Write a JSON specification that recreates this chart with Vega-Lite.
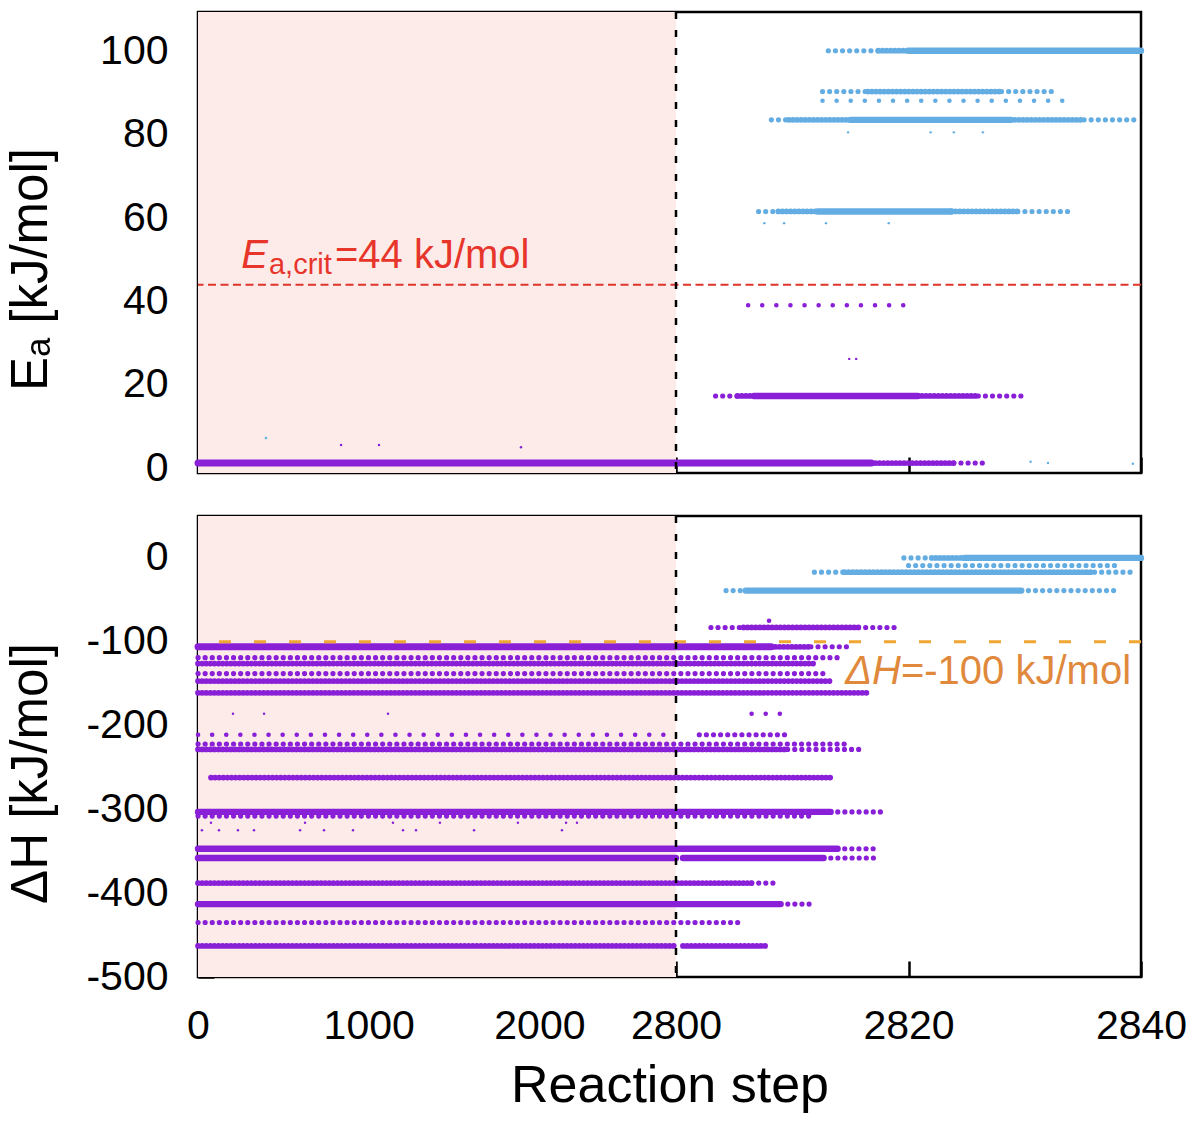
{
  "$schema": "https://vega.github.io/schema/vega-lite/v6.json",
  "background": "white",
  "padding": {"left": 3, "top": 9, "right": 5, "bottom": 5},
  "spacing": 23,
  "datasets": {
    "shade": [{"x0": 0, "x1": 2800}],
    "bands": [
      {"panel": "Ea", "y": 100.2, "x0": 2813.1, "x1": 2817.4, "group": "high", "density": "sparse"},
      {"panel": "Ea", "y": 100.2, "x0": 2817.4, "x1": 2820, "group": "high", "density": "medium"},
      {"panel": "Ea", "y": 100.2, "x0": 2820, "x1": 2840, "group": "high", "density": "dense"},
      {"panel": "Ea", "y": 90.4, "x0": 2812.6, "x1": 2816.5, "group": "high", "density": "sparse"},
      {"panel": "Ea", "y": 90.4, "x0": 2816.5, "x1": 2828, "group": "high", "density": "medium"},
      {"panel": "Ea", "y": 90.4, "x0": 2828, "x1": 2832.7, "group": "high", "density": "sparse"},
      {"panel": "Ea", "y": 88.2, "x0": 2812.6, "x1": 2834.4, "group": "high", "density": "few"},
      {"panel": "Ea", "y": 83.6, "x0": 2808.2, "x1": 2809.7, "group": "high", "density": "sparse"},
      {"panel": "Ea", "y": 83.6, "x0": 2809.7, "x1": 2815, "group": "high", "density": "medium"},
      {"panel": "Ea", "y": 83.6, "x0": 2815, "x1": 2828.8, "group": "high", "density": "dense"},
      {"panel": "Ea", "y": 83.6, "x0": 2828.8, "x1": 2835.1, "group": "high", "density": "medium"},
      {"panel": "Ea", "y": 83.6, "x0": 2835.1, "x1": 2839.4, "group": "high", "density": "sparse"},
      {"panel": "Ea", "y": 61.6, "x0": 2807.1, "x1": 2808.8, "group": "high", "density": "sparse"},
      {"panel": "Ea", "y": 61.6, "x0": 2808.8, "x1": 2812.2, "group": "high", "density": "medium"},
      {"panel": "Ea", "y": 61.6, "x0": 2812.2, "x1": 2823.7, "group": "high", "density": "dense"},
      {"panel": "Ea", "y": 61.6, "x0": 2823.7, "x1": 2829.4, "group": "high", "density": "medium"},
      {"panel": "Ea", "y": 61.6, "x0": 2829.4, "x1": 2834.2, "group": "high", "density": "sparse"},
      {"panel": "Ea", "y": 39.1, "x0": 2806.2, "x1": 2819.6, "group": "low", "density": "few"},
      {"panel": "Ea", "y": 17.3, "x0": 2803.4, "x1": 2805.3, "group": "low", "density": "sparse"},
      {"panel": "Ea", "y": 17.3, "x0": 2805.3, "x1": 2806.7, "group": "low", "density": "medium"},
      {"panel": "Ea", "y": 17.3, "x0": 2806.7, "x1": 2820.8, "group": "low", "density": "dense"},
      {"panel": "Ea", "y": 17.3, "x0": 2820.8, "x1": 2826, "group": "low", "density": "medium"},
      {"panel": "Ea", "y": 17.3, "x0": 2826, "x1": 2830, "group": "low", "density": "sparse"},
      {"panel": "Ea", "y": 1.2, "x0": 0, "x1": 2816.8, "group": "low", "density": "thick"},
      {"panel": "Ea", "y": 1.2, "x0": 2816.8, "x1": 2823.9, "group": "low", "density": "medium"},
      {"panel": "Ea", "y": 1.2, "x0": 2823.9, "x1": 2826.8, "group": "low", "density": "sparse"},
      {"panel": "dH", "y": 0, "x0": 2819.6, "x1": 2822, "group": "high", "density": "sparse"},
      {"panel": "dH", "y": 0, "x0": 2822, "x1": 2824.8, "group": "high", "density": "medium"},
      {"panel": "dH", "y": 0, "x0": 2824.8, "x1": 2840, "group": "high", "density": "dense"},
      {"panel": "dH", "y": -9, "x0": 2820, "x1": 2838, "group": "high", "density": "sparse"},
      {"panel": "dH", "y": -17, "x0": 2811.9, "x1": 2814.5, "group": "high", "density": "sparse"},
      {"panel": "dH", "y": -17, "x0": 2814.5, "x1": 2836, "group": "high", "density": "medium"},
      {"panel": "dH", "y": -17, "x0": 2836, "x1": 2839.6, "group": "high", "density": "sparse"},
      {"panel": "dH", "y": -39, "x0": 2804.3, "x1": 2806, "group": "high", "density": "sparse"},
      {"panel": "dH", "y": -39, "x0": 2806, "x1": 2829.7, "group": "high", "density": "dense"},
      {"panel": "dH", "y": -39, "x0": 2829.7, "x1": 2837.7, "group": "high", "density": "sparse"},
      {"panel": "dH", "y": -75, "x0": 2808, "x1": 2809.2, "group": "low", "density": "few"},
      {"panel": "dH", "y": -83, "x0": 2803, "x1": 2805.8, "group": "low", "density": "sparse"},
      {"panel": "dH", "y": -83, "x0": 2805.8, "x1": 2815.7, "group": "low", "density": "medium"},
      {"panel": "dH", "y": -83, "x0": 2815.7, "x1": 2818.8, "group": "low", "density": "sparse"},
      {"panel": "dH", "y": -106, "x0": 0, "x1": 2808.2, "group": "low", "density": "thick"},
      {"panel": "dH", "y": -106, "x0": 2808.2, "x1": 2811.6, "group": "low", "density": "medium"},
      {"panel": "dH", "y": -106, "x0": 2811.6, "x1": 2814.8, "group": "low", "density": "sparse"},
      {"panel": "dH", "y": -119, "x0": 0, "x1": 2814, "group": "low", "density": "sparse"},
      {"panel": "dH", "y": -126, "x0": 0, "x1": 2812, "group": "low", "density": "medium"},
      {"panel": "dH", "y": -138, "x0": 0, "x1": 2813, "group": "low", "density": "sparse"},
      {"panel": "dH", "y": -147, "x0": 0, "x1": 2813.4, "group": "low", "density": "medium"},
      {"panel": "dH", "y": -161, "x0": 0, "x1": 2816.6, "group": "low", "density": "medium"},
      {"panel": "dH", "y": -186, "x0": 2806.5, "x1": 2809, "group": "low", "density": "few"},
      {"panel": "dH", "y": -211, "x0": 0, "x1": 2800, "group": "low", "density": "few"},
      {"panel": "dH", "y": -211, "x0": 2802, "x1": 2809.7, "group": "low", "density": "sparse"},
      {"panel": "dH", "y": -222, "x0": 0, "x1": 2814.5, "group": "low", "density": "sparse"},
      {"panel": "dH", "y": -228.5, "x0": 0, "x1": 2809.6, "group": "low", "density": "medium"},
      {"panel": "dH", "y": -228.5, "x0": 2809.6, "x1": 2816.2, "group": "low", "density": "sparse"},
      {"panel": "dH", "y": -262, "x0": 76, "x1": 2813.3, "group": "low", "density": "medium"},
      {"panel": "dH", "y": -303, "x0": 0, "x1": 2813.3, "group": "low", "density": "dense"},
      {"panel": "dH", "y": -303, "x0": 2813.3, "x1": 2817.9, "group": "low", "density": "sparse"},
      {"panel": "dH", "y": -308, "x0": 0, "x1": 2812, "group": "low", "density": "sparse"},
      {"panel": "dH", "y": -347, "x0": 0, "x1": 2813.9, "group": "low", "density": "dense"},
      {"panel": "dH", "y": -347, "x0": 2813.9, "x1": 2817.4, "group": "low", "density": "sparse"},
      {"panel": "dH", "y": -358, "x0": 0, "x1": 2799.6, "group": "low", "density": "dense"},
      {"panel": "dH", "y": -358, "x0": 2800.6, "x1": 2812.7, "group": "low", "density": "dense"},
      {"panel": "dH", "y": -358, "x0": 2812.7, "x1": 2817, "group": "low", "density": "sparse"},
      {"panel": "dH", "y": -388, "x0": 0, "x1": 2806.5, "group": "low", "density": "medium"},
      {"panel": "dH", "y": -388, "x0": 2806.5, "x1": 2808.6, "group": "low", "density": "sparse"},
      {"panel": "dH", "y": -413, "x0": 0, "x1": 2809, "group": "low", "density": "dense"},
      {"panel": "dH", "y": -413, "x0": 2809, "x1": 2811.8, "group": "low", "density": "sparse"},
      {"panel": "dH", "y": -435, "x0": 0, "x1": 2805.5, "group": "low", "density": "sparse"},
      {"panel": "dH", "y": -463, "x0": 0, "x1": 2799.5, "group": "low", "density": "medium"},
      {"panel": "dH", "y": -463, "x0": 2800.6, "x1": 2807.9, "group": "low", "density": "medium"}
    ],
    "points": [
      {"panel": "Ea", "x": 398, "y": 7.2, "group": "high"},
      {"panel": "Ea", "x": 838, "y": 5.5, "group": "low"},
      {"panel": "Ea", "x": 1060, "y": 5.5, "group": "low"},
      {"panel": "Ea", "x": 1892, "y": 5, "group": "low"},
      {"panel": "Ea", "x": 2814.9, "y": 26.2, "group": "low"},
      {"panel": "Ea", "x": 2815.5, "y": 26.2, "group": "low"},
      {"panel": "Ea", "x": 2814.8, "y": 80.6, "group": "high"},
      {"panel": "Ea", "x": 2821.9, "y": 80.6, "group": "high"},
      {"panel": "Ea", "x": 2823.9, "y": 80.6, "group": "high"},
      {"panel": "Ea", "x": 2826.4, "y": 80.6, "group": "high"},
      {"panel": "Ea", "x": 2807.6, "y": 58.8, "group": "high"},
      {"panel": "Ea", "x": 2809.3, "y": 58.8, "group": "high"},
      {"panel": "Ea", "x": 2812.9, "y": 58.8, "group": "high"},
      {"panel": "Ea", "x": 2818.3, "y": 58.8, "group": "high"},
      {"panel": "Ea", "x": 2830.5, "y": 1.5, "group": "high"},
      {"panel": "Ea", "x": 2832, "y": 1.2, "group": "high"},
      {"panel": "Ea", "x": 2839.3, "y": 1, "group": "high"},
      {"panel": "dH", "x": 205, "y": -186, "group": "low"},
      {"panel": "dH", "x": 387, "y": -186, "group": "low"},
      {"panel": "dH", "x": 1113, "y": -186, "group": "low"},
      {"panel": "dH", "x": 76, "y": -316, "group": "low"},
      {"panel": "dH", "x": 627, "y": -316, "group": "low"},
      {"panel": "dH", "x": 1142, "y": -316, "group": "low"},
      {"panel": "dH", "x": 1417, "y": -316, "group": "low"},
      {"panel": "dH", "x": 1874, "y": -316, "group": "low"},
      {"panel": "dH", "x": 2156, "y": -316, "group": "low"},
      {"panel": "dH", "x": 2220, "y": -316, "group": "low"},
      {"panel": "dH", "x": 23, "y": -325, "group": "low"},
      {"panel": "dH", "x": 123, "y": -325, "group": "low"},
      {"panel": "dH", "x": 234, "y": -325, "group": "low"},
      {"panel": "dH", "x": 328, "y": -325, "group": "low"},
      {"panel": "dH", "x": 598, "y": -325, "group": "low"},
      {"panel": "dH", "x": 738, "y": -325, "group": "low"},
      {"panel": "dH", "x": 908, "y": -325, "group": "low"},
      {"panel": "dH", "x": 1201, "y": -325, "group": "low"},
      {"panel": "dH", "x": 1277, "y": -325, "group": "low"},
      {"panel": "dH", "x": 1617, "y": -325, "group": "low"},
      {"panel": "dH", "x": 2132, "y": -325, "group": "low"}
    ],
    "labels": [
      {"panel": "Ea", "part": "sym", "x": 410, "y": 44, "text": "E"},
      {"panel": "Ea", "part": "sub", "x": 410, "y": 44, "text": "a,crit"},
      {"panel": "Ea", "part": "rest", "x": 802, "y": 44, "text": "=44 kJ/mol"},
      {"panel": "dH", "part": "sym", "x": 2819.35, "y": -100, "text": "ΔH"},
      {"panel": "dH", "part": "rest", "x": 2819.35, "y": -100, "text": "=-100 kJ/mol"}
    ]
  },
  "vconcat": [
    {
      "width": 943,
      "height": 461,
      "layer": [
        {
          "data": {"name": "shade"},
          "mark": {"type": "rect", "color": "#fcebe8"},
          "encoding": {
            "x": {"field": "x0", "type": "quantitative", "scale": {"domain": [0, 2800, 2840], "range": [0, 478, 943], "nice": false, "zero": false}},
            "x2": {"field": "x1"}
          }
        },
        {
          "data": {"name": "bands"},
          "transform": [{"filter": "datum.panel == 'Ea'"}],
          "mark": {"type": "rule", "strokeCap": "round"},
          "encoding": {
            "x": {
              "field": "x0", "type": "quantitative",
              "scale": {"domain": [0, 2800, 2840], "range": [0, 478, 943], "nice": false, "zero": false},
              "axis": {"values": [0, 1000, 2000, 2800, 2820, 2840], "labels": false, "title": null}
            },
            "x2": {"field": "x1"},
            "y": {
              "field": "y", "type": "quantitative",
              "scale": {"domain": [-1.2, 109.5], "nice": false, "zero": false},
              "axis": {"values": [0, 20, 40, 60, 80, 100], "title": "Eₐ [kJ/mol]", "titleX": -141, "titleY": 257}
            },
            "color": {"field": "group", "type": "nominal", "scale": {"domain": ["low", "high"], "range": ["#8a1fd8", "#64ade3"]}, "legend": null},
            "size": {"field": "density", "type": "ordinal", "scale": {"domain": ["thick", "dense", "medium", "sparse", "few"], "range": [7, 4.5, 2, 1.8, 1.8]}, "legend": null},
            "strokeDash": {"field": "density", "type": "nominal", "scale": {"domain": ["thick", "dense", "medium", "sparse", "few"], "range": [[1, 0], [1, 0], [0.1, 4], [0.1, 7], [0.1, 14]]}, "legend": null}
          }
        },
        {
          "data": {"name": "points"},
          "transform": [{"filter": "datum.panel == 'Ea'"}],
          "mark": {"type": "circle", "size": 6, "opacity": 1},
          "encoding": {
            "x": {"field": "x", "type": "quantitative"},
            "y": {"field": "y", "type": "quantitative"},
            "color": {"field": "group", "type": "nominal", "legend": null}
          }
        },
        {
          "data": {"values": [{}]},
          "mark": {"type": "rule", "color": "#e0352b", "strokeWidth": 2, "strokeDash": [8, 4.5]},
          "encoding": {"y": {"datum": 44}}
        },
        {
          "data": {"values": [{}]},
          "mark": {"type": "rule", "color": "black", "strokeWidth": 2.5, "strokeDash": [7, 11]},
          "encoding": {"x": {"datum": 2800}}
        },
        {
          "data": {"name": "labels"},
          "transform": [{"filter": "datum.panel == 'Ea' && datum.part == 'sym'"}],
          "mark": {"type": "text", "font": "Liberation Sans", "fontSize": 40, "fontStyle": "italic", "align": "right", "baseline": "alphabetic", "dy": -16.5, "color": "#e8352c"},
          "encoding": {"x": {"field": "x", "type": "quantitative"}, "y": {"field": "y", "type": "quantitative"}, "text": {"field": "text"}}
        },
        {
          "data": {"name": "labels"},
          "transform": [{"filter": "datum.panel == 'Ea' && datum.part == 'sub'"}],
          "mark": {"type": "text", "font": "Liberation Sans", "fontSize": 29, "align": "left", "baseline": "alphabetic", "dx": 1, "dy": -10.5, "color": "#e8352c"},
          "encoding": {"x": {"field": "x", "type": "quantitative"}, "y": {"field": "y", "type": "quantitative"}, "text": {"field": "text"}}
        },
        {
          "data": {"name": "labels"},
          "transform": [{"filter": "datum.panel == 'Ea' && datum.part == 'rest'"}],
          "mark": {"type": "text", "font": "Liberation Sans", "fontSize": 40, "align": "left", "baseline": "alphabetic", "dy": -16.5, "color": "#e8352c"},
          "encoding": {"x": {"field": "x", "type": "quantitative"}, "y": {"field": "y", "type": "quantitative"}, "text": {"field": "text"}}
        }
      ]
    },
    {
      "width": 943,
      "height": 461,
      "layer": [
        {
          "data": {"name": "shade"},
          "mark": {"type": "rect", "color": "#fcebe8"},
          "encoding": {
            "x": {"field": "x0", "type": "quantitative", "scale": {"domain": [0, 2800, 2840], "range": [0, 478, 943], "nice": false, "zero": false}},
            "x2": {"field": "x1"}
          }
        },
        {
          "data": {"name": "bands"},
          "transform": [{"filter": "datum.panel == 'dH'"}],
          "mark": {"type": "rule", "strokeCap": "round"},
          "encoding": {
            "x": {
              "field": "x0", "type": "quantitative",
              "scale": {"domain": [0, 2800, 2840], "range": [0, 478, 943], "nice": false, "zero": false},
              "axis": {"values": [0, 1000, 2000, 2800, 2820, 2840], "labelExpr": "'' + datum.value", "title": "Reaction step", "titleFontSize": 52, "titlePadding": 14}
            },
            "x2": {"field": "x1"},
            "y": {
              "field": "y", "type": "quantitative",
              "scale": {"domain": [-500, 50], "nice": false, "zero": false},
              "axis": {"values": [0, -100, -200, -300, -400, -500], "labelExpr": "'' + datum.value", "title": "ΔH [kJ/mol]", "titleX": -141, "titleY": 257}
            },
            "color": {"field": "group", "type": "nominal", "scale": {"domain": ["low", "high"], "range": ["#8a1fd8", "#64ade3"]}, "legend": null},
            "size": {"field": "density", "type": "ordinal", "scale": {"domain": ["thick", "dense", "medium", "sparse", "few"], "range": [6, 4, 2, 1.8, 1.8]}, "legend": null},
            "strokeDash": {"field": "density", "type": "nominal", "scale": {"domain": ["thick", "dense", "medium", "sparse", "few"], "range": [[1, 0], [1, 0], [0.1, 4], [0.1, 7], [0.1, 14]]}, "legend": null}
          }
        },
        {
          "data": {"name": "points"},
          "transform": [{"filter": "datum.panel == 'dH'"}],
          "mark": {"type": "circle", "size": 6, "opacity": 1},
          "encoding": {
            "x": {"field": "x", "type": "quantitative"},
            "y": {"field": "y", "type": "quantitative"},
            "color": {"field": "group", "type": "nominal", "legend": null}
          }
        },
        {
          "data": {"values": [{}]},
          "mark": {"type": "rule", "color": "#f0a632", "strokeWidth": 3, "strokeDash": [12, 23]},
          "encoding": {"y": {"datum": -100}}
        },
        {
          "data": {"values": [{}]},
          "mark": {"type": "rule", "color": "black", "strokeWidth": 2.5, "strokeDash": [7, 11]},
          "encoding": {"x": {"datum": 2800}}
        },
        {
          "data": {"name": "labels"},
          "transform": [{"filter": "datum.panel == 'dH' && datum.part == 'sym'"}],
          "mark": {"type": "text", "font": "Liberation Sans", "fontSize": 40, "fontStyle": "italic", "align": "right", "baseline": "alphabetic", "dy": 42, "color": "#e0893c"},
          "encoding": {"x": {"field": "x", "type": "quantitative"}, "y": {"field": "y", "type": "quantitative"}, "text": {"field": "text"}}
        },
        {
          "data": {"name": "labels"},
          "transform": [{"filter": "datum.panel == 'dH' && datum.part == 'rest'"}],
          "mark": {"type": "text", "font": "Liberation Sans", "fontSize": 40, "align": "left", "baseline": "alphabetic", "dy": 42, "color": "#e0893c"},
          "encoding": {"x": {"field": "x", "type": "quantitative"}, "y": {"field": "y", "type": "quantitative"}, "text": {"field": "text"}}
        }
      ]
    }
  ],
  "config": {
    "view": {"stroke": "black", "strokeWidth": 2.5},
    "axis": {
      "grid": false,
      "domain": false,
      "tickSize": -16,
      "tickWidth": 2.5,
      "tickColor": "black",
      "labelFont": "Liberation Sans",
      "labelFontSize": 41,
      "labelColor": "black",
      "labelFlush": false,
      "labelOverlap": false,
      "titleFont": "Liberation Sans",
      "titleFontSize": 51,
      "titleFontWeight": "normal",
      "titleColor": "black"
    },
    "axisX": {"labelPadding": 45},
    "axisY": {"labelPadding": 46}
  }
}
